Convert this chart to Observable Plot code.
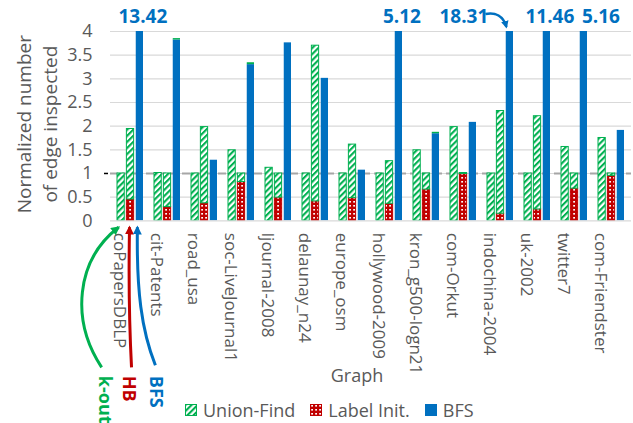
<!DOCTYPE html>
<html><head><meta charset="utf-8">
<script src="https://cdn.jsdelivr.net/npm/d3@7"></script>
<script src="https://cdn.jsdelivr.net/npm/@observablehq/plot@0.6"></script>
<style>
body{margin:0;background:#fff;font-family:"Open Sans",sans-serif;}
#wrap{position:relative;width:633px;height:423px;overflow:hidden}
#legend{display:flex;align-items:center;height:27px;padding-left:185px;font-size:18px;color:#595959;line-height:1}
.item{display:flex;align-items:center;margin-right:15px}
.item svg{margin-right:6px}
</style></head><body><div id="wrap"></div>
<script>
const graphs = ["coPapersDBLP","cit-Patents","road_usa","soc-LiveJournal1","ljournal-2008","delaunay_n24","europe_osm","hollywood-2009","kron_g500-logn21","com-Orkut","indochina-2004","uk-2002","twitter7","com-Friendster"];
const koutUF      = [1.00, 1.01, 1.00, 1.49, 1.12, 1.00, 1.00, 1.00, 1.49, 1.98, 1.00, 1.00, 1.56, 1.75];
const hbLabelInit = [0.45, 0.29, 0.37, 0.82, 0.49, 0.41, 0.48, 0.36, 0.66, 0.99, 0.15, 0.24, 0.68, 0.95];
const hbUF        = [1.49, 0.71, 1.61, 0.18, 0.51, 3.29, 1.13, 0.90, 0.34, 0.02, 2.17, 1.97, 0.32, 0.05];
const bfsBFS      = [13.42, 3.82, 1.28, 3.30, 3.76, 3.01, 1.07, 5.12, 1.84, 2.08, 18.31, 11.46, 5.16, 1.91];
const bfsUF       = [0, 0.03, 0, 0.04, 0, 0, 0, 0, 0.03, 0, 0, 0, 0, 0];
const yTicks = [0, 0.5, 1, 1.5, 2, 2.5, 3, 3.5, 4];
const yTitle = ["Normalized number", "of edge inspected"];
const xTitle = "Graph";
const seriesNames = ["Union-Find", "Label Init.", "BFS"];
const algoNames = ["k-out", "HB", "BFS"];
const yMax = 4;

const GREEN = "#00B050", RED = "#C00000", BLUE = "#0070C0", GRAY = "#595959";

// build tables from the arrays
const kout = graphs.map((g, i) => ({graph: g, y1: 0, y2: koutUF[i]}));
const hbInit = graphs.map((g, i) => ({graph: g, y1: 0, y2: hbLabelInit[i]}));
const hbU = graphs.map((g, i) => ({graph: g, y1: hbLabelInit[i], y2: hbLabelInit[i] + hbUF[i]}));
const bfsB = graphs.map((g, i) => ({graph: g, y1: 0, y2: bfsBFS[i]}));
const bfsU = graphs.map((g, i) => ({graph: g, y1: bfsBFS[i], y2: bfsBFS[i] + bfsUF[i]})).filter(d => d.y2 > d.y1);
const overflow = graphs.map((g, i) => ({graph: g, v: bfsBFS[i]})).filter(d => d.v > yMax);

// styling geometry
const BW = 26.05, BAR = 7.3, STEP = 9.375;
const slot = k => ({insetLeft: k * STEP, insetRight: BW - BAR - k * STEP});
const nudge = {"indochina-2004": -49, "twitter7": 14};

const labelMarks = overflow.map(d => Plot.text([d], {
  x: "graph", y: () => yMax, text: r => r.v.toFixed(2),
  dx: STEP + 3 + (nudge[d.graph] || 0), dy: -15,
  fill: BLUE, fontWeight: "bold", fontSize: 19
}));

const yTitleMarks = yTitle.map((t, i) => Plot.text([t], {
  y: () => yMax / 2, frameAnchor: "left", textAnchor: "middle", text: d => d,
  rotate: -90, dx: i === 0 ? -86 : -60, dy: -2, fontSize: 19, fill: GRAY
}));

const plot = Plot.plot({
  width: 633, height: 396,
  marginLeft: 110, marginRight: 2, marginTop: 31, marginBottom: 175.7,
  style: {fontFamily: "Open Sans", fontSize: "18px", color: GRAY, overflow: "visible", background: "transparent"},
  x: {domain: graphs, paddingInner: 0.3, paddingOuter: 0.15},
  y: {domain: [0, yMax]},
  marks: [
    Plot.gridY(yTicks, {stroke: "#d9d9d9", strokeOpacity: 1, strokeWidth: 1.2}),
    Plot.ruleY([1], {stroke: "#a6a6a6", strokeWidth: 2, strokeDasharray: "8,4"}),
    Plot.ruleY([1], {stroke: "#000", strokeWidth: 1.5, insetLeft: -6, insetRight: 523}),
    Plot.barY(kout, {x: "graph", y1: "y1", y2: "y2", fill: "url(#ufHatch)", stroke: GREEN, strokeWidth: 1, clip: true, ...slot(0)}),
    Plot.barY(hbInit, {x: "graph", y1: "y1", y2: "y2", fill: "url(#liDots)", stroke: RED, strokeWidth: 1, clip: true, ...slot(1)}),
    Plot.barY(hbU, {x: "graph", y1: "y1", y2: "y2", fill: "url(#ufHatch)", stroke: GREEN, strokeWidth: 1, clip: true, ...slot(1)}),
    Plot.barY(bfsB, {x: "graph", y1: "y1", y2: "y2", fill: BLUE, clip: true, ...slot(2)}),
    Plot.barY(bfsU, {x: "graph", y1: "y1", y2: "y2", fill: GREEN, clip: true, ...slot(2)}),
    Plot.axisY({ticks: yTicks, tickFormat: d => String(d), tickSize: 0, tickPadding: 18, fontSize: 18, label: null}),
    Plot.axisX({tickRotate: 90, tickSize: 0, tickPadding: 12, fontSize: 17, label: null, dx: -11}),
    Plot.text([xTitle], {frameAnchor: "bottom", text: d => d, dy: 161, dx: -14, fontSize: 18, fill: GRAY}),
    ...yTitleMarks,
    ...labelMarks,
    Plot.text([algoNames[0]], {x: () => graphs[0], frameAnchor: "bottom", text: d => d, rotate: 90, textAnchor: "start", dx: -32, dy: 155, fill: GREEN, fontWeight: "bold", fontSize: 18}),
    Plot.text([algoNames[1]], {x: () => graphs[0], frameAnchor: "bottom", text: d => d, rotate: 90, textAnchor: "start", dx: -8, dy: 155, fill: RED, fontWeight: "bold", fontSize: 18}),
    Plot.text([algoNames[2]], {x: () => graphs[0], frameAnchor: "bottom", text: d => d, rotate: 90, textAnchor: "start", dx: 19, dy: 155, fill: BLUE, fontWeight: "bold", fontSize: 18})
  ]
});

const defs = `
<pattern id="ufHatch" patternUnits="userSpaceOnUse" width="4.3" height="4.3" patternTransform="rotate(45)">
  <rect width="4.3" height="4.3" fill="#fff"/><rect width="2.1" height="4.3" fill="${GREEN}"/>
</pattern>
<pattern id="liDots" patternUnits="userSpaceOnUse" width="4" height="4">
  <rect width="4" height="4" fill="${RED}"/><rect x="1.2" y="1" width="1.8" height="1.6" fill="#fff"/>
</pattern>
<marker id="ahG" viewBox="0 0 10 10" refX="8" refY="5" markerWidth="3" markerHeight="3" orient="auto"><path d="M0,0L10,5L0,10z" fill="${GREEN}"/></marker>
<marker id="ahR" viewBox="0 0 10 10" refX="8" refY="5" markerWidth="3" markerHeight="3" orient="auto"><path d="M0,0L10,5L0,10z" fill="${RED}"/></marker>
<marker id="ahB" viewBox="0 0 10 10" refX="8" refY="5" markerWidth="3" markerHeight="3" orient="auto"><path d="M0,0L10,5L0,10z" fill="${BLUE}"/></marker>`;
const svg = d3.select(plot);
svg.insert("defs", ":first-child").html(defs);

// annotation arrows, positioned from the plot's own scales
const xs = plot.scale("x"), ys = plot.scale("y");
const barC = (g, k) => xs.apply(g) + k * STEP + BAR / 2;
const y0 = ys.apply(0);
const g0 = graphs[0];
const arrows = [
  {c: GREEN, m: "ahG", p: [[barC(g0,0) - 19, y0 + 147], [barC(g0,0) - 50, y0 + 100], [barC(g0,0) - 45, y0 + 40], [barC(g0,0) - 2, y0 + 7]]},
  {c: RED, m: "ahR", p: [[barC(g0,1) + 1.5, y0 + 147], [barC(g0,1) - 1, y0 + 100], [barC(g0,1) - 1.5, y0 + 60], [barC(g0,1) - 0.5, y0 + 7]]},
  {c: BLUE, m: "ahB", p: [[barC(g0,2) + 16, y0 + 145], [barC(g0,2) + 2, y0 + 110], [barC(g0,2) - 3, y0 + 70], [barC(g0,2) - 2, y0 + 7]]}
];
const idx = graphs.indexOf("indochina-2004");
const yTop = ys.apply(yMax);
arrows.push({c: BLUE, m: "ahB", w: 2.5, p: [[barC(graphs[idx],2) - 24, yTop - 17], [barC(graphs[idx],2) - 14, yTop - 19], [barC(graphs[idx],2) - 6, yTop - 15], [barC(graphs[idx],2) - 3, yTop - 4]]});
for (const a of arrows) {
  const [p0, p1, p2, p3] = a.p;
  svg.append("path").attr("d", `M${p0}C${p1} ${p2} ${p3}`).attr("fill", "none")
    .attr("stroke", a.c).attr("stroke-width", a.w || 3).attr("marker-end", `url(#${a.m})`);
}

document.getElementById("wrap").append(plot);

// legend
const legend = document.createElement("div");
legend.id = "legend";
const swatch = [
  `<rect x="0.5" y="0.5" width="11" height="11" fill="url(#ufHatch)" stroke="${GREEN}"/>`,
  `<rect x="0.5" y="0.5" width="11" height="11" fill="url(#liDots)" stroke="${RED}"/>`,
  `<rect x="0" y="0" width="12" height="12" fill="${BLUE}"/>`
];
seriesNames.forEach((s, i) => {
  const it = document.createElement("div");
  it.className = "item";
  it.innerHTML = `<svg width="12" height="12">${swatch[i]}</svg><span>${s}</span>`;
  legend.append(it);
});
document.getElementById("wrap").append(legend);
</script></body></html>
